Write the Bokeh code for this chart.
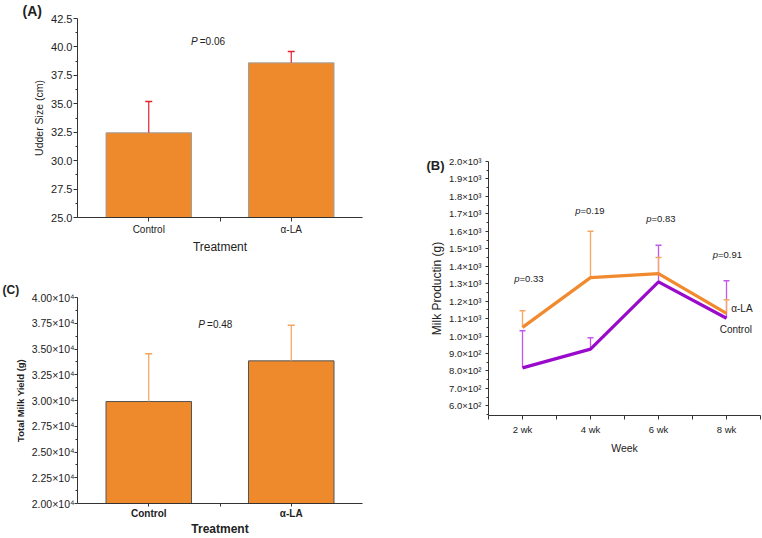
from bokeh.plotting import figure
from bokeh.layouts import row, column, Spacer
from bokeh.models import FixedTicker, Label, Title, LinearAxis
from bokeh.embed import file_html
from bokeh.resources import INLINE

# ---- data ----
treatments = ["Control", "α-LA"]
udder_size = [32.45, 38.6]
udder_err = [2.75, 1.0]
udder_p = "0.06"

total_yield = [29900, 33850]
total_err = [4650, 3450]
yield_p = "0.48"

weeks = ["2 wk", "4 wk", "6 wk", "8 wk"]
milk_ala = [1050, 1335, 1358, 1130]
milk_ala_err = [95, 265, 92, 78]
milk_ctrl = [818, 925, 1310, 1102]
milk_ctrl_err = [212, 65, 210, 215]
week_p = ["0.33", "0.19", "0.83", "0.91"]

FONT = "Liberation Sans"
BAR = "#EF8A2C"
ORANGE = "#F18A2E"
PURPLE = "#9A0ACB"
SUP = str.maketrans("0123456789", "⁰¹²³⁴⁵⁶⁷⁸⁹")


def sci(v, digits):
    exp = len(str(int(v))) - 1
    mant = v / 10 ** exp
    return f"{mant:.{digits}f}×10{str(exp).translate(SUP)}"


def style_axes(p, tick_size, axis_size, bold=False, cat_size=None):
    for ax in (p.xaxis[0], p.yaxis[0]):
        ax.axis_line_color = "#333333"
        ax.major_tick_line_color = "#333333"
        ax.minor_tick_line_color = "#333333"
        ax.major_tick_in = 0
        ax.major_tick_out = 4
        ax.minor_tick_in = 0
        ax.minor_tick_out = 2
        ax.major_label_text_font = FONT
        ax.major_label_text_color = "#222222"
        ax.axis_label_text_font = FONT
        ax.axis_label_text_color = "#222222"
        ax.axis_label_text_font_style = "bold" if bold else "normal"
    p.yaxis.major_label_text_font_size = tick_size
    p.xaxis.major_label_text_font_size = cat_size or tick_size
    p.xaxis.axis_label_text_font_size = axis_size
    p.grid.visible = False
    p.outline_line_color = None


def add_text(p, x, y, text, size, style="normal", align="left", xoff=0):
    p.add_layout(Label(x=x, y=y, text=text, text_font=FONT, text_font_size=size,
                       text_font_style=style, text_align=align, text_baseline="middle",
                       text_color="#222222", x_offset=xoff))


def panel_title(p, text, size, offset, standoff):
    p.add_layout(Title(text=text, align="left", offset=offset, standoff=standoff,
                       text_font=FONT, text_font_size=size, text_font_style="bold",
                       text_color="#222222"), "above")


def bar_panel(values, errs, y0, y1, ticks, minors, labels, err_color, line_color,
              width, height, borders, ylabel, ysize, bold):
    p = figure(width=width, height=height, x_range=(0.5, 2.5), y_range=(y0, y1),
               toolbar_location=None, output_backend="svg", title=None,
               min_border_left=borders[0], min_border_right=borders[1],
               min_border_top=borders[2], min_border_bottom=borders[3])
    xs = [1, 2]
    p.vbar(x=xs, top=values, bottom=y0, width=0.6, fill_color=BAR,
           line_color=line_color, line_width=1)
    tops = [v + e for v, e in zip(values, errs)]
    p.segment(x0=xs, y0=values, x1=xs, y1=tops, line_color=err_color, line_width=1.2)
    p.scatter(x=xs, y=tops, marker="dash", size=7, line_color=err_color, line_width=1.5)
    p.xaxis.ticker = FixedTicker(ticks=xs, minor_ticks=[1.5])
    p.xaxis.major_label_overrides = {1: treatments[0], 2: treatments[1]}
    p.yaxis.ticker = FixedTicker(ticks=ticks, minor_ticks=minors)
    p.yaxis.major_label_overrides = labels
    p.xaxis.axis_label = "Treatment"
    p.yaxis.axis_label = ylabel
    style_axes(p, "11px", "12px", bold=bold, cat_size="10px")
    p.xaxis.major_label_text_font_style = "bold" if bold else "normal"
    p.xaxis.minor_tick_out = 4
    p.xaxis.major_label_standoff = 2
    p.xaxis.axis_label_standoff = 2
    p.yaxis.axis_label_text_font_size = ysize
    p.yaxis.major_label_standoff = 1
    p.yaxis.axis_label_standoff = 3
    return p


# ---- (A) udder size ----
a_ticks = [25 + 2.5 * i for i in range(8)]
a_minor = [26.25 + 2.5 * i for i in range(7)]
pA = bar_panel(udder_size, udder_err, 25, 42.5, a_ticks, a_minor,
               {t: f"{t:.1f}" for t in a_ticks}, "#E3232C", "#A0A0A0",
               380, 268, (73, 18, 15, 51), "Udder Size (cm)", "10.5px", False)
panel_title(pA, "(A)", "14px", -55, 0)
add_text(pA, 1.344, 40.48, "P", "10px", "italic", "right")
add_text(pA, 1.344, 40.48, "=" + udder_p, "10px", "normal", "left", 2)

# ---- (C) total milk yield ----
c_ticks = [20000 + 2500 * i for i in range(9)]
c_minor = [21250 + 2500 * i for i in range(8)]
pC = bar_panel(total_yield, total_err, 20000, 40000, c_ticks, c_minor,
               {t: sci(t, 2) for t in c_ticks}, "#F5A25C", "#555555",
               380, 270, (77, 4, 29, 33), "Total Milk Yield (g)", "9.5px", True)
pC.yaxis.major_label_text_font_size = "10.5px"
pC.yaxis.major_tick_out = 3
pC.yaxis.major_label_standoff = 0
pC.xaxis.major_tick_out = 3
pC.xaxis.minor_tick_out = 3
pC.xaxis.major_label_standoff = 1
pC.xaxis.axis_label_standoff = 0
panel_title(pC, "(C)", "12px", -75, 2)
add_text(pC, 1.395, 37400, "P", "10px", "italic", "right")
add_text(pC, 1.395, 37400, "=" + yield_p, "10px", "normal", "left", 2)

# ---- (B) weekly milk production ----
pB = figure(width=382, height=320, x_range=(0.5, 4.5), y_range=(545, 2000),
            toolbar_location=None, output_backend="svg", title=None,
            min_border_left=108, min_border_right=2, min_border_top=21,
            min_border_bottom=45)
wx = [1, 2, 3, 4]
ctrl_top = [v + e for v, e in zip(milk_ctrl, milk_ctrl_err)]
ala_top = [v + e for v, e in zip(milk_ala, milk_ala_err)]
pB.segment(x0=wx, y0=milk_ctrl, x1=wx, y1=ctrl_top, line_color="#C457EC", line_width=1.3)
pB.scatter(x=wx, y=ctrl_top, marker="dash", size=6, line_color="#C457EC", line_width=1.5)
pB.segment(x0=wx, y0=milk_ala, x1=wx, y1=ala_top, line_color="#F5A762", line_width=1.3)
pB.scatter(x=wx, y=ala_top, marker="dash", size=6, line_color="#F5A762", line_width=1.5)
pB.line(wx, milk_ctrl, line_color=PURPLE, line_width=3.2)
pB.line(wx, milk_ala, line_color=ORANGE, line_width=3.2)

b_ticks = list(range(600, 2001, 100))
b_minor = list(range(550, 2000, 100))
pB.yaxis.ticker = FixedTicker(ticks=b_ticks, minor_ticks=b_minor)
pB.yaxis.major_label_overrides = {t: sci(t, 1) for t in b_ticks}
pB.xaxis.ticker = FixedTicker(ticks=wx, minor_ticks=[0.5, 1.5, 2.5, 3.5, 4.5])
pB.xaxis.major_label_overrides = {i + 1: w for i, w in enumerate(weeks)}
pB.xaxis.axis_label = "Week"
pB.yaxis.axis_label = "Milk Productin (g)"
style_axes(pB, "9.5px", "10.5px")
pB.yaxis.axis_label_text_font_size = "12px"
pB.yaxis.major_tick_out = 3
pB.yaxis.major_label_standoff = 4
pB.yaxis.axis_label_standoff = 2
pB.xaxis.minor_tick_out = 4
pB.xaxis.major_label_standoff = 4
pB.xaxis.axis_label_standoff = 4

# panel letter sits level with the top tick, left of the tick labels
b_letter_y = 1977
letter_axis = LinearAxis(ticker=FixedTicker(ticks=[b_letter_y], minor_ticks=[]),
                         major_label_overrides={b_letter_y: "(B)"},
                         axis_line_color=None, major_tick_line_color=None,
                         major_tick_out=0, major_label_standoff=-17,
                         major_label_text_font=FONT, major_label_text_font_size="13px",
                         major_label_text_font_style="bold",
                         major_label_text_color="#222222")
pB.add_layout(letter_axis, "left")

p_join = [0.956, 1.853, 2.897, 3.875]
p_y = [1330, 1719, 1673, 1467]
for xj, yj, pv in zip(p_join, p_y, week_p):
    add_text(pB, xj, yj, "p", "9.5px", "italic", "right")
    add_text(pB, xj, yj, "=" + pv, "9.5px", "normal", "left")
add_text(pB, 4.07, 1158, "α-LA", "10px")
add_text(pB, 3.9, 1037, "Control", "10px")

layout = row(column(pA, pC), column(Spacer(width=382, height=140), pB))

with open("out.html", "w") as f:
    f.write(file_html(layout, INLINE))
